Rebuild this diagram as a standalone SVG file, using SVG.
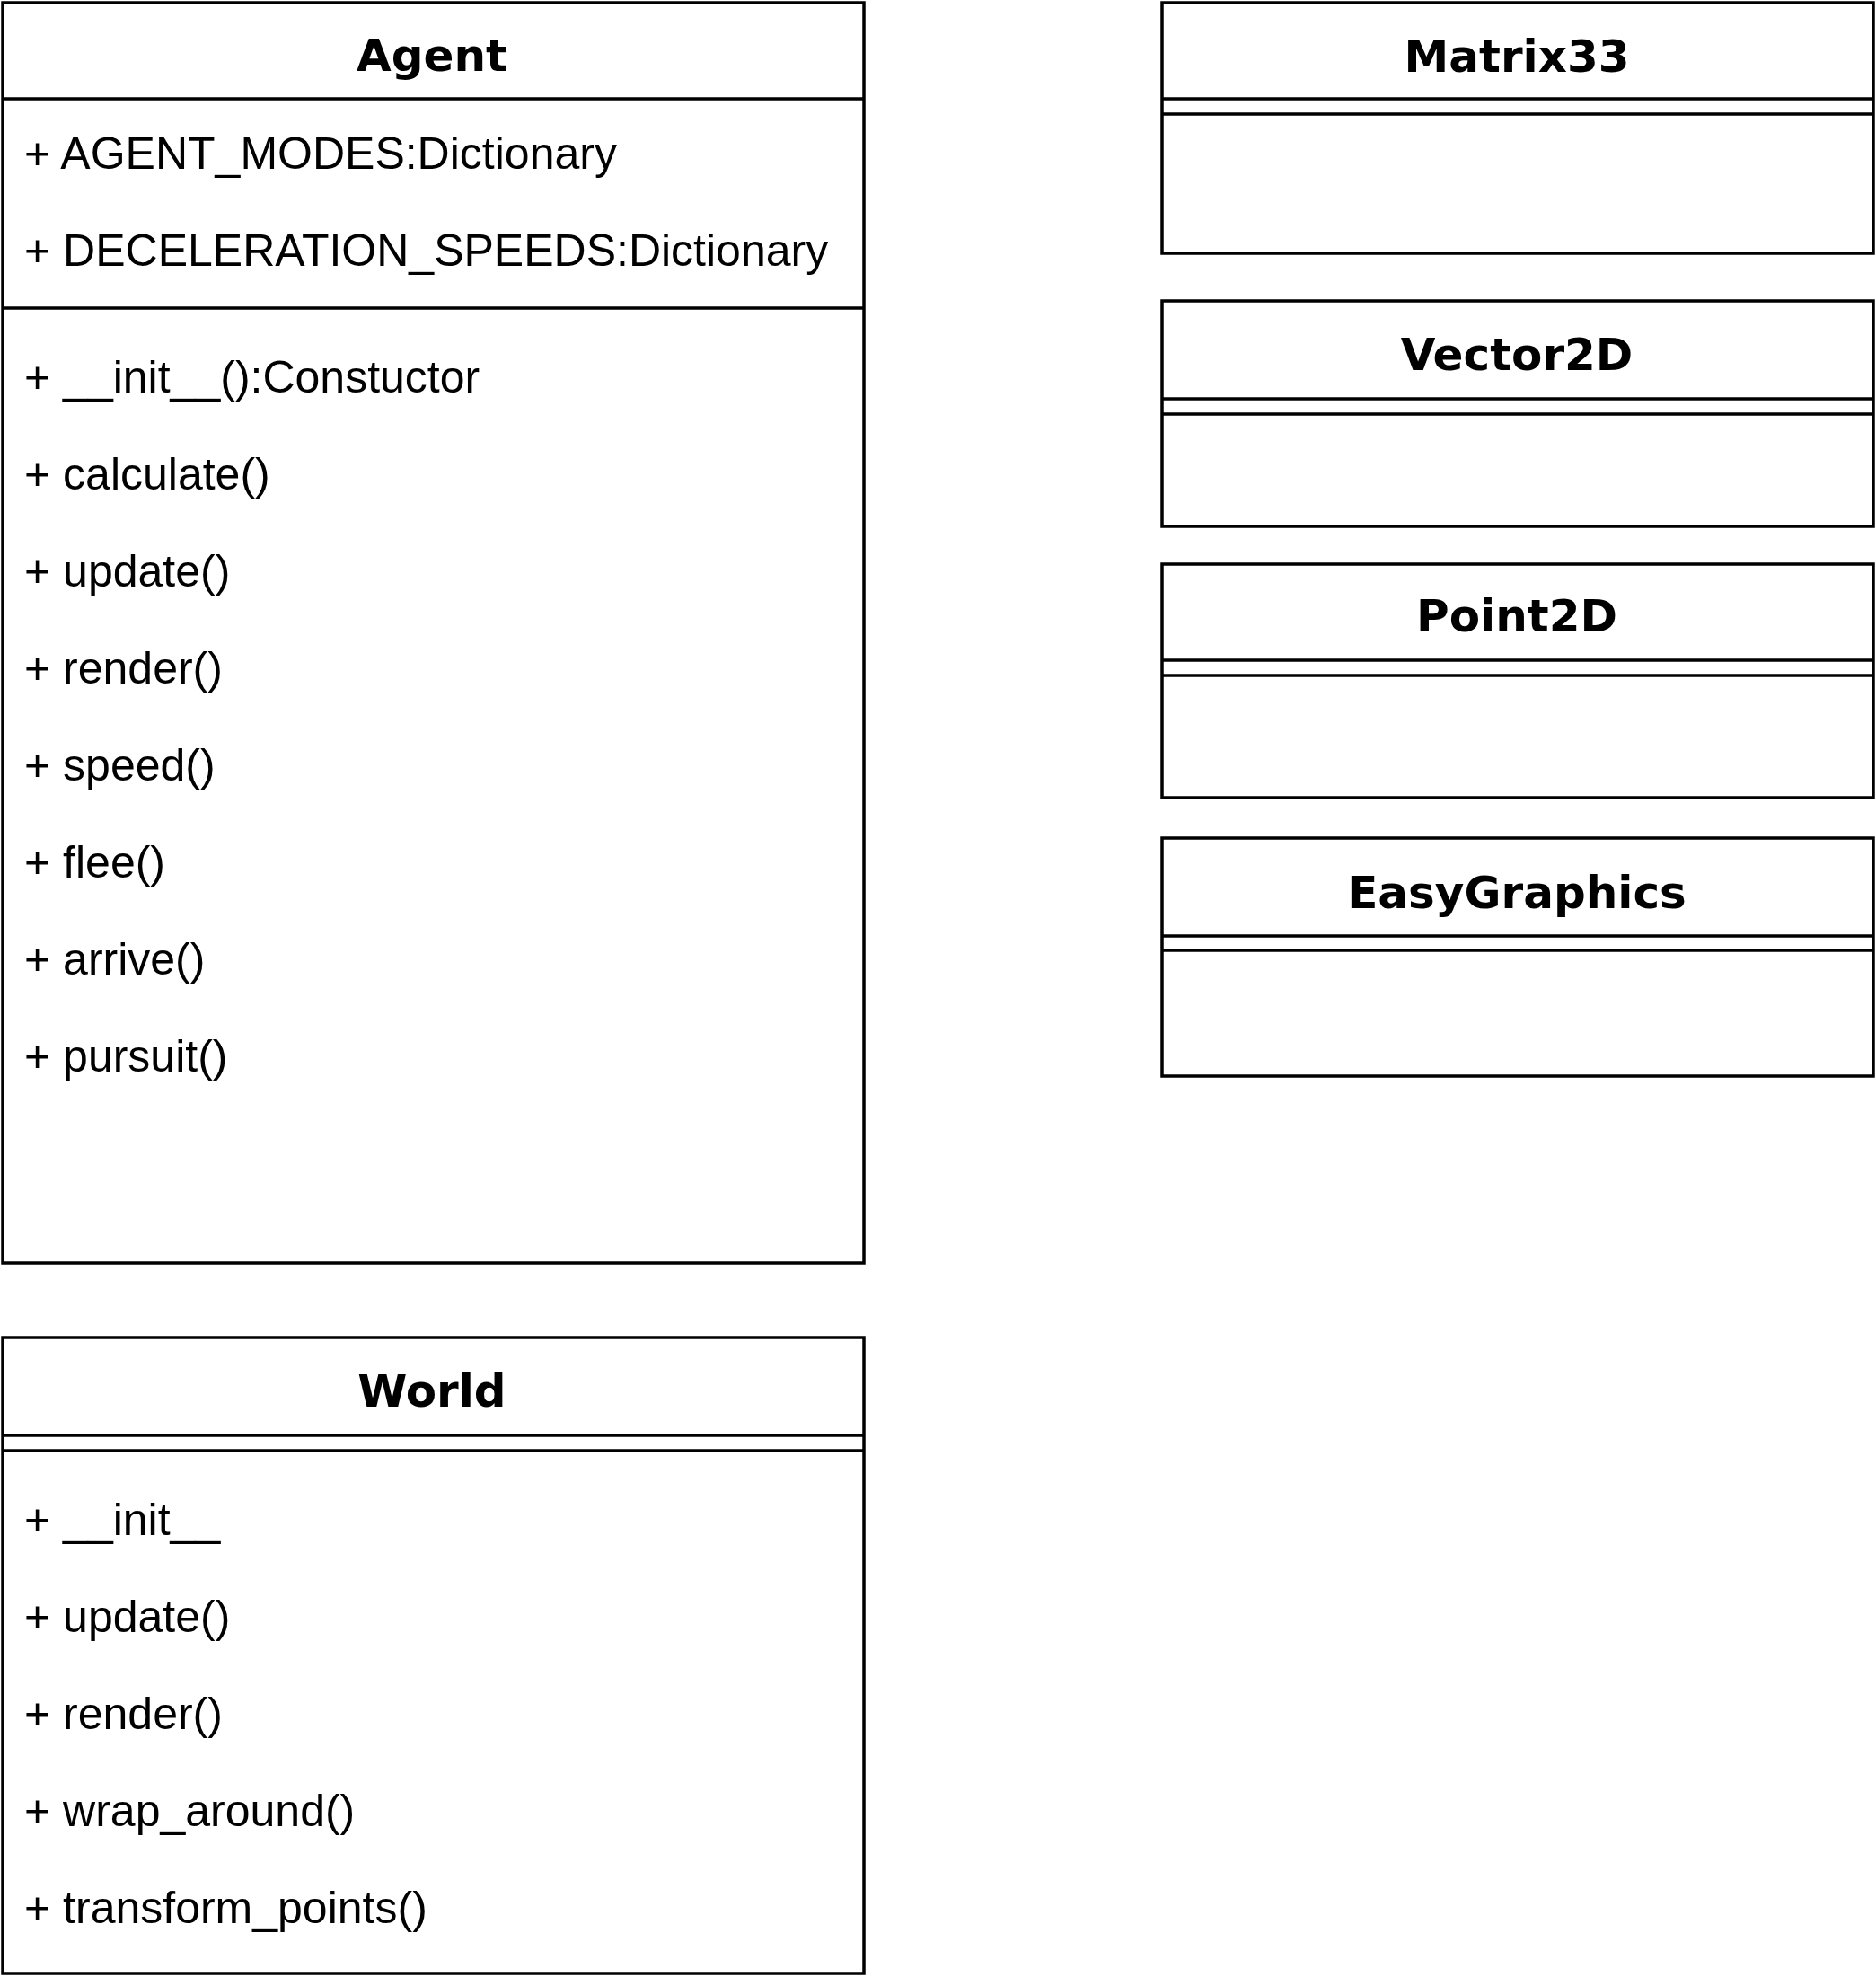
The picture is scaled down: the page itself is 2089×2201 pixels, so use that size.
<svg xmlns="http://www.w3.org/2000/svg" width="2089" height="2201" viewBox="0 0 2089 2201">
<style>
.box{fill:#fff;stroke:#000;stroke-width:3.5}
.ln{stroke:#000;stroke-width:3.5;fill:none}
.t{font-family:"DejaVu Sans",Verdana,sans-serif;font-weight:bold;font-size:50px;text-anchor:middle;fill:#000}
.m{font-family:"Liberation Sans",Arial,sans-serif;font-size:50px;fill:#000}
</style>
<rect width="2089" height="2201" fill="#fff"/>
<g id="Agent">
<rect class="box" x="3" y="3" width="959" height="1403"/>
<line class="ln" x1="3" y1="110" x2="962" y2="110"/>
<line class="ln" x1="3" y1="343" x2="962" y2="343"/>
<text class="t" x="481" y="79">Agent</text>
<text class="m" x="27" y="188">+ AGENT_MODES:Dictionary</text>
<text class="m" x="27" y="296">+ DECELERATION_SPEEDS:Dictionary</text>
<text class="m" x="27" y="437">+ __init__():Constuctor</text>
<text class="m" x="27" y="545">+ calculate()</text>
<text class="m" x="27" y="653">+ update()</text>
<text class="m" x="27" y="761">+ render()</text>
<text class="m" x="27" y="869">+ speed()</text>
<text class="m" x="27" y="977">+ flee()</text>
<text class="m" x="27" y="1085">+ arrive()</text>
<text class="m" x="27" y="1193">+ pursuit()</text>
</g>
<g id="World">
<rect class="box" x="3" y="1489" width="959" height="708"/>
<line class="ln" x1="3" y1="1598" x2="962" y2="1598"/>
<line class="ln" x1="3" y1="1615" x2="962" y2="1615"/>
<text class="t" x="481" y="1566">World</text>
<text class="m" x="27" y="1709">+ __init__</text>
<text class="m" x="27" y="1817">+ update()</text>
<text class="m" x="27" y="1925">+ render()</text>
<text class="m" x="27" y="2033">+ wrap_around()</text>
<text class="m" x="27" y="2141">+ transform_points()</text>
</g>
<g id="Matrix33">
<rect class="box" x="1294" y="3" width="792" height="279"/>
<line class="ln" x1="1294" y1="110" x2="2086" y2="110"/>
<line class="ln" x1="1294" y1="127" x2="2086" y2="127"/>
<text class="t" x="1689" y="80">Matrix33</text>
</g>
<g id="Vector2D">
<rect class="box" x="1294" y="335" width="792" height="251"/>
<line class="ln" x1="1294" y1="444" x2="2086" y2="444"/>
<line class="ln" x1="1294" y1="461" x2="2086" y2="461"/>
<text class="t" x="1689" y="412">Vector2D</text>
</g>
<g id="Point2D">
<rect class="box" x="1294" y="628" width="792" height="260"/>
<line class="ln" x1="1294" y1="735" x2="2086" y2="735"/>
<line class="ln" x1="1294" y1="752" x2="2086" y2="752"/>
<text class="t" x="1689" y="703">Point2D</text>
</g>
<g id="EasyGraphics">
<rect class="box" x="1294" y="933" width="792" height="265"/>
<line class="ln" x1="1294" y1="1042" x2="2086" y2="1042"/>
<line class="ln" x1="1294" y1="1058" x2="2086" y2="1058"/>
<text class="t" x="1689" y="1011">EasyGraphics</text>
</g>
<g id="connectors"></g>
</svg>
